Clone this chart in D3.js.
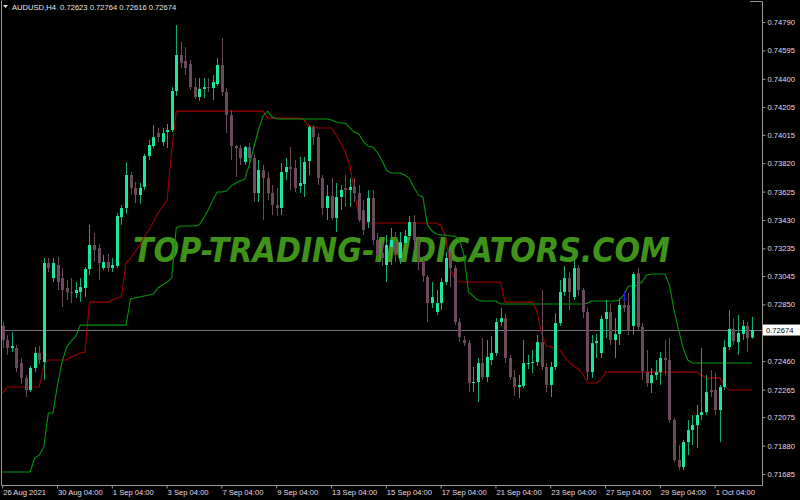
<!DOCTYPE html>
<html><head><meta charset="utf-8">
<script src="https://cdn.jsdelivr.net/npm/d3@7"></script>
<style>html,body{margin:0;padding:0;background:#000;}svg{display:block}</style>
</head><body>
<svg id="c" width="800" height="500"></svg>
<script>
const headerText = "AUDUSD,H4  0.72623 0.72764 0.72616 0.72674";
const watermark = "TOP-TRADING-INDICATORS.COM";

const openP = [0.72702,0.72605,0.72550,0.72550,0.72447,0.72345,0.72262,0.72413,0.72516,0.72454,
0.73134,0.73031,0.73121,0.73031,0.72963,0.72935,0.72928,0.72935,0.72963,0.73093,
0.73258,0.73238,0.73100,0.73141,0.73100,0.73114,0.73450,0.73512,0.73739,0.73650,
0.73602,0.73657,0.73870,0.73938,0.74027,0.73965,0.74034,0.74048,0.74316,0.74563,
0.74522,0.74501,0.74343,0.74275,0.74330,0.74343,0.74336,0.74364,0.74494,0.74309,
0.74151,0.73938,0.73924,0.73828,0.73931,0.73856,0.73615,0.73773,0.73718,0.73615,
0.73533,0.73512,0.73759,0.73794,0.73787,0.73664,0.73677,0.73835,0.74068,0.73999,
0.73718,0.73512,0.73595,0.73444,0.73588,0.73650,0.73636,0.73657,0.73615,0.73498,
0.73416,0.73581,0.73292,0.73204,0.73121,0.73245,0.73278,0.73169,0.73272,0.73320,
0.73416,0.73292,0.73141,0.73038,0.72859,0.72798,0.72859,0.73004,0.73204,0.73100,
0.72729,0.72605,0.72584,0.72310,0.72317,0.72447,0.72351,0.72468,0.72516,0.72729,
0.72756,0.72482,0.72351,0.72283,0.72290,0.72441,0.72447,0.72454,0.72591,0.72420,
0.72297,0.72420,0.72722,0.72935,0.73031,0.72901,0.73100,0.72949,0.72798,0.72385,
0.72584,0.72516,0.72750,0.72798,0.72605,0.72647,0.72846,0.72846,0.72702,0.73065,
0.72695,0.72385,0.72310,0.72365,0.72385,0.72482,0.72468,0.72056,0.71781,0.71733,
0.71904,0.71987,0.72021,0.72090,0.72110,0.72262,0.72262,0.72124,0.72283,0.72557,
0.72681,0.72591,0.72647,0.72702,0.72623];
const highP = [0.72729,0.72640,0.72660,0.72571,0.72482,0.72365,0.72427,0.72557,0.72564,0.73169,
0.73169,0.73169,0.73176,0.73100,0.73018,0.73031,0.73004,0.73031,0.73107,0.73396,
0.73340,0.73265,0.73190,0.73197,0.73169,0.73478,0.73533,0.73828,0.73759,0.73691,
0.73684,0.73884,0.73979,0.74082,0.74062,0.74062,0.74089,0.74343,0.74769,0.74653,
0.74618,0.74529,0.74405,0.74405,0.74405,0.74405,0.74426,0.74543,0.74680,0.74336,
0.74185,0.73945,0.73945,0.73938,0.73959,0.73877,0.73842,0.73808,0.73759,0.73670,
0.73650,0.73821,0.73856,0.73931,0.73842,0.73863,0.73863,0.74082,0.74082,0.74027,
0.73739,0.73670,0.73718,0.73684,0.73670,0.73739,0.73718,0.73718,0.73670,0.73567,
0.73636,0.73636,0.73340,0.73272,0.73327,0.73375,0.73347,0.73347,0.73361,0.73457,
0.73464,0.73320,0.73183,0.73052,0.73004,0.72949,0.73031,0.73210,0.73224,0.73121,
0.72756,0.72633,0.72605,0.72420,0.72482,0.72619,0.72605,0.72633,0.72756,0.72825,
0.72790,0.72503,0.72399,0.72365,0.72605,0.72503,0.72537,0.72640,0.72949,0.72447,
0.72454,0.72790,0.73018,0.73114,0.73072,0.73155,0.73121,0.72963,0.72825,0.72640,
0.72647,0.72777,0.72880,0.72859,0.72756,0.72894,0.72894,0.72928,0.73072,0.73100,
0.72722,0.72537,0.72413,0.72468,0.72523,0.72605,0.72619,0.72069,0.71884,0.71918,
0.72056,0.72090,0.72159,0.72550,0.72365,0.72399,0.72379,0.72297,0.72605,0.72811,
0.72756,0.72777,0.72743,0.72729,0.72764];
const lowP = [0.72550,0.72503,0.72523,0.72385,0.72304,0.72214,0.72248,0.72385,0.72441,0.72331,
0.73072,0.73004,0.72949,0.72832,0.72880,0.72859,0.72894,0.72866,0.72901,0.73052,
0.73141,0.73018,0.73086,0.73072,0.73072,0.73100,0.73396,0.73471,0.73602,0.73546,
0.73540,0.73636,0.73842,0.73924,0.73965,0.73938,0.73924,0.74034,0.74282,0.74474,
0.74426,0.74323,0.74261,0.74247,0.74268,0.74309,0.74254,0.74350,0.74282,0.74027,
0.73842,0.73725,0.73808,0.73808,0.73808,0.73553,0.73553,0.73430,0.73567,0.73464,
0.73457,0.73464,0.73705,0.73636,0.73622,0.73615,0.73588,0.73739,0.73945,0.73670,
0.73464,0.73430,0.73430,0.73347,0.73498,0.73519,0.73519,0.73553,0.73416,0.73327,
0.73375,0.73258,0.73141,0.73114,0.73004,0.73121,0.73141,0.73128,0.73169,0.73292,
0.73224,0.73086,0.73004,0.72729,0.72825,0.72777,0.72811,0.72983,0.72969,0.72709,
0.72591,0.72564,0.72248,0.72248,0.72179,0.72331,0.72317,0.72434,0.72496,0.72702,
0.72447,0.72331,0.72221,0.72207,0.72276,0.72406,0.72379,0.72427,0.72399,0.72248,
0.72214,0.72399,0.72702,0.72908,0.72811,0.72880,0.72908,0.72756,0.72331,0.72345,
0.72482,0.72482,0.72619,0.72571,0.72482,0.72571,0.72798,0.72640,0.72640,0.72674,
0.72331,0.72283,0.72241,0.72331,0.72297,0.72365,0.72035,0.71767,0.71712,0.71712,
0.71815,0.71884,0.71863,0.72056,0.72090,0.72214,0.72090,0.71904,0.72262,0.72537,
0.72571,0.72503,0.72605,0.72523,0.72616];
const closeP = [0.72605,0.72550,0.72564,0.72413,0.72345,0.72262,0.72413,0.72516,0.72468,0.73134,
0.73100,0.73134,0.73004,0.72949,0.72935,0.72928,0.72949,0.72969,0.73093,0.73258,
0.73224,0.73134,0.73141,0.73100,0.73121,0.73457,0.73512,0.73739,0.73650,0.73602,
0.73650,0.73870,0.73945,0.73999,0.73999,0.74027,0.74048,0.74316,0.74563,0.74508,
0.74474,0.74343,0.74275,0.74330,0.74343,0.74336,0.74378,0.74494,0.74309,0.74151,
0.73938,0.73924,0.73856,0.73931,0.73856,0.73615,0.73773,0.73718,0.73615,0.73533,
0.73512,0.73759,0.73794,0.73780,0.73650,0.73684,0.73828,0.74068,0.73999,0.73718,
0.73512,0.73595,0.73444,0.73588,0.73636,0.73636,0.73657,0.73615,0.73430,0.73361,
0.73581,0.73292,0.73190,0.73169,0.73258,0.73292,0.73190,0.73278,0.73320,0.73416,
0.73292,0.73141,0.73045,0.72859,0.72901,0.72859,0.73004,0.73169,0.73100,0.72729,
0.72626,0.72584,0.72310,0.72317,0.72447,0.72351,0.72489,0.72516,0.72729,0.72756,
0.72482,0.72351,0.72283,0.72297,0.72447,0.72447,0.72454,0.72591,0.72420,0.72297,
0.72420,0.72722,0.72935,0.73031,0.72935,0.73100,0.72949,0.72798,0.72385,0.72584,
0.72598,0.72750,0.72798,0.72605,0.72647,0.72846,0.72825,0.72674,0.73059,0.72695,
0.72392,0.72310,0.72365,0.72385,0.72482,0.72468,0.72056,0.71781,0.71733,0.71904,
0.71987,0.72021,0.72090,0.72110,0.72248,0.72248,0.72124,0.72283,0.72557,0.72681,
0.72598,0.72653,0.72702,0.72619,0.72674];

const redLine = [0.72241,0.72283,0.72283,0.72283,0.72283,0.72283,0.72283,0.72283,0.72283,0.72434,
0.72468,0.72468,0.72468,0.72468,0.72468,0.72489,0.72503,0.72516,0.72523,0.72866,
0.72866,0.72866,0.72866,0.72866,0.72880,0.72894,0.72901,0.73134,0.73169,0.73210,
0.73258,0.73313,0.73361,0.73416,0.73478,0.73519,0.73567,0.73911,0.74178,0.74178,
0.74178,0.74178,0.74178,0.74178,0.74178,0.74178,0.74178,0.74178,0.74178,0.74178,
0.74178,0.74178,0.74178,0.74178,0.74178,0.74178,0.74178,0.74178,0.74130,0.74130,
0.74130,0.74130,0.74130,0.74130,0.74130,0.74130,0.74117,0.74076,0.74069,0.74062,
0.74062,0.74062,0.74062,0.74014,0.73959,0.73897,0.73808,0.73622,0.73450,0.73409,
0.73409,0.73409,0.73409,0.73409,0.73409,0.73409,0.73409,0.73409,0.73409,0.73409,
0.73409,0.73409,0.73409,0.73409,0.73409,0.73409,0.73389,0.73313,0.73100,0.73018,
0.73004,0.73004,0.73004,0.73004,0.73004,0.73004,0.73004,0.73004,0.73004,0.73004,
0.72866,0.72866,0.72866,0.72866,0.72866,0.72866,0.72866,0.72798,0.72653,0.72564,
0.72557,0.72550,0.72537,0.72489,0.72454,0.72427,0.72406,0.72372,0.72310,0.72310,
0.72310,0.72331,0.72385,0.72385,0.72385,0.72385,0.72385,0.72385,0.72385,0.72385,
0.72385,0.72385,0.72385,0.72385,0.72385,0.72385,0.72385,0.72385,0.72385,0.72385,
0.72385,0.72385,0.72385,0.72365,0.72345,0.72345,0.72345,0.72345,0.72297,0.72262,
0.72262,0.72262,0.72262,0.72262,0.72262];
const greenLine = [0.71699,0.71699,0.71699,0.71699,0.71699,0.71699,0.71699,0.71795,0.71816,0.71871,
0.72104,0.72104,0.72297,0.72454,0.72557,0.72598,0.72633,0.72708,0.72708,0.72708,
0.72708,0.72708,0.72708,0.72708,0.72708,0.72708,0.72708,0.72708,0.72887,0.72894,
0.72901,0.72908,0.72915,0.72922,0.72963,0.72983,0.73004,0.73031,0.73375,0.73389,
0.73389,0.73389,0.73389,0.73396,0.73444,0.73498,0.73567,0.73622,0.73622,0.73629,
0.73663,0.73684,0.73698,0.73712,0.73808,0.73931,0.74048,0.74144,0.74178,0.74137,
0.74124,0.74124,0.74124,0.74124,0.74124,0.74124,0.74124,0.74124,0.74124,0.74124,
0.74124,0.74124,0.74117,0.74103,0.74096,0.74096,0.74062,0.74034,0.74021,0.73966,
0.73938,0.73931,0.73897,0.73842,0.73773,0.73753,0.73753,0.73753,0.73739,0.73718,
0.73657,0.73602,0.73588,0.73396,0.73354,0.73334,0.73327,0.73327,0.73320,0.73320,
0.73292,0.73190,0.72935,0.72908,0.72880,0.72873,0.72873,0.72873,0.72873,0.72853,
0.72853,0.72853,0.72853,0.72853,0.72853,0.72853,0.72853,0.72853,0.72853,0.72853,
0.72853,0.72853,0.72853,0.72853,0.72853,0.72853,0.72853,0.72853,0.72859,0.72873,
0.72873,0.72873,0.72873,0.72873,0.72873,0.72880,0.72915,0.72976,0.72976,0.72983,
0.73004,0.73052,0.73059,0.73059,0.73059,0.73059,0.72983,0.72811,0.72674,0.72550,
0.72468,0.72447,0.72447,0.72447,0.72447,0.72447,0.72447,0.72447,0.72447,0.72447,
0.72447,0.72447,0.72447,0.72447,0.72447];

const dateLabels = ["26 Aug 2021","30 Aug 04:00","1 Sep 04:00","3 Sep 04:00","7 Sep 04:00","9 Sep 04:00","13 Sep 04:00","15 Sep 04:00","17 Sep 04:00","21 Sep 04:00","23 Sep 04:00","27 Sep 04:00","29 Sep 04:00","1 Oct 04:00"];
const dateBars = [0,12,24,36,48,60,72,84,96,108,120,132,144,156];
const priceTicks = [0.74790,0.74595,0.74400,0.74205,0.74015,0.73820,0.73625,0.73430,0.73235,0.73045,0.72850,0.72460,0.72265,0.72075,0.71880,0.71685];
const lastPrice = 0.72674;
const signalBar = 136, signalPrice = 0.72900;

const bullColor = "#1ee6a0", bearColor = "#6c4a5e";
const svg = d3.select("#c");
svg.append("rect").attr("width",800).attr("height",500).attr("fill","#000");

const n = openP.length;
const x = d3.scaleLinear().domain([0, n-1]).range([2.7, 751.7]);
const y = d3.scaleLinear().domain([0.71685, 0.74790]).range([474, 22]);

// watermark behind
svg.append("text").attr("x",133).attr("y",262)
  .attr("font-family","DejaVu Sans").attr("font-weight","bold").attr("font-style","italic")
  .attr("font-size",33).attr("fill","#46a01c").attr("opacity",0.92)
  .attr("textLength",537).attr("lengthAdjust","spacingAndGlyphs")
  .text(watermark);

// current price line
svg.append("line").attr("x1",2).attr("x2",762).attr("y1",Math.round(y(lastPrice))+0.5).attr("y2",Math.round(y(lastPrice))+0.5)
  .attr("stroke","#7e6f78").attr("stroke-width",1);

// lines
const lineGen = d3.line().x((d,i)=>x(i)).y(d=>y(d));
svg.append("path").datum(redLine).attr("d",lineGen).attr("fill","none").attr("stroke","#a00000").attr("stroke-width",1.1);
svg.append("path").datum(greenLine).attr("d",lineGen).attr("fill","none").attr("stroke","#00960a").attr("stroke-width",1.1);

// candles
const idx = d3.range(n);
const g = svg.append("g");
g.selectAll("line.w").data(idx).join("line")
  .attr("x1",i=>Math.round(x(i))+0.5).attr("x2",i=>Math.round(x(i))+0.5)
  .attr("y1",i=>y(highP[i])).attr("y2",i=>y(lowP[i]))
  .attr("stroke",i=>closeP[i]>=openP[i]?"#17a877":bearColor).attr("stroke-width",1);
g.selectAll("rect.b").data(idx).join("rect")
  .attr("x",i=>Math.round(x(i))-1).attr("width",3)
  .attr("y",i=>y(Math.max(openP[i],closeP[i])))
  .attr("height",i=>Math.max(1, Math.abs(y(openP[i])-y(closeP[i]))))
  .attr("fill",i=>closeP[i]>=openP[i]?bullColor:bearColor);

// signal arrow
const sx = Math.round(x(signalBar))+0.5, sy = y(signalPrice);
svg.append("path").attr("d",`M${sx},${sy-6}V${sy+4}M${sx-2},${sy+1}L${sx},${sy+4}L${sx+2},${sy+1}`)
  .attr("stroke","#2020d0").attr("fill","none").attr("stroke-width",1);

// frame
svg.append("path").attr("d","M1.5,0.5V485.5H762.5V1.5H750").attr("fill","none").attr("stroke","#9a9a9a").attr("stroke-width",1);

// axes
const font = "Liberation Sans";
const ay = svg.append("g").attr("transform","translate(762.5,0)")
  .call(d3.axisRight(y).tickValues(priceTicks).tickFormat(d3.format(".5f")).tickSize(3).tickPadding(2));
ay.select(".domain").remove();
ay.selectAll("line").attr("stroke","#9a9a9a");
ay.selectAll("text").attr("fill","#e4dce4").attr("font-family",font).attr("font-size","7.6px");

const ax = svg.append("g").attr("transform","translate(0,485.5)")
  .call(d3.axisBottom(x).tickValues(dateBars).tickFormat((d,i)=>dateLabels[i]).tickSize(3).tickPadding(1));
ax.select(".domain").remove();
ax.selectAll("line").attr("stroke","#9a9a9a").attr("transform","translate(-0.5,0)");
ax.selectAll("text").attr("fill","#e4dce4").attr("font-family",font).attr("font-size","7.6px")
  .attr("text-anchor","start").attr("dx","0");

// last price label
svg.append("rect").attr("x",763).attr("y",y(lastPrice)-5.5).attr("width",37).attr("height",11).attr("fill","#ffffff");
svg.append("text").attr("x",766).attr("y",y(lastPrice)+3).attr("font-family",font).attr("font-size","7.6px").attr("fill","#000").text(d3.format(".5f")(lastPrice));

// header
svg.append("path").attr("d","M3,5H8L5.5,8Z").attr("fill","#e0e0e0");
svg.append("text").attr("x",12).attr("y",10).attr("font-family",font).attr("font-size","7.6px").attr("fill","#e6e6e6")
  .attr("xml:space","preserve").style("white-space","pre").text(headerText);
</script>
</body></html>
